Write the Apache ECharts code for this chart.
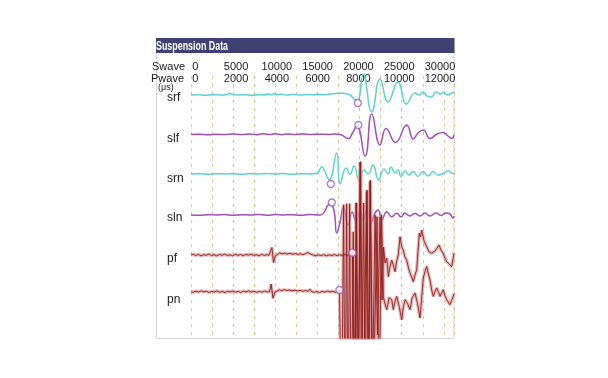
<!DOCTYPE html>
<html>
<head>
<meta charset="utf-8">
<title>Suspension Data</title>
<script src="https://cdn.jsdelivr.net/npm/echarts@6.0.0/dist/echarts.min.js"></script>
<style>
    html, body { margin: 0; padding: 0; background: #fff; }
    #main { width: 608px; height: 378px; }
</style>
</head>
<body>
<div id="main"></div>
<script>
// trace names, top to bottom
var traceNames = ['srf', 'slf', 'srn', 'sln', 'pf', 'pn'];

// tick labels of the two time rows (Pwave time in us is the data axis)
var swaveTicks = [0, 5000, 10000, 15000, 20000, 25000, 30000];
var pwaveTicks = [0, 2000, 4000, 6000, 8000, 10000, 12000];

// waveforms: [time (us, Pwave), amplitude]
var srfData = [[0,0],[350,0.3],[680,-0.2],[1000,0.3],[1390,0],[1670,0.2],[1810,1.5],[1960,0.5],[2240,0],[2570,0.3],[2900,-0.2],[3190,0.3],[3470,0],[3660,1],[3810,0.2],[3950,1.2],[4090,0.3],[4280,0.8],[4520,0],[4850,0.4],[5180,0],[5470,0.5],[5750,0.2],[6030,0.8],[6320,0.3],[6600,1],[6890,1.5],[7170,1.8],[7360,1.2],[7550,0],[7740,-4],[7900,-6],[8170,21],[8580,-17],[8970,16],[9350,-7],[9820,13],[10230,-9],[10630,2],[10820,0],[11010,3],[11200,-1],[11410,-2],[11630,3],[11820,1],[12010,3],[12150,0],[12290,1],[12480,3]];

var slfData = [[0,0],[400,0.3],[800,-0.2],[1200,0.2],[1600,0],[2000,0.4],[2400,0],[2800,0.6],[3100,-0.3],[3400,0.8],[3700,0],[4000,0.7],[4300,-0.2],[4600,0.5],[4900,0],[5300,0.4],[5700,0],[6100,0.3],[6500,0],[6800,0.4],[7075,0],[7470,-4],[7640,0.5],[7870,8.5],[8260,-21.5],[8578,20.5],[8971,-10.5],[9255,6],[9706,-8],[10236,9.5],[10549,-4.5],[10772,1.5],[11023,4.5],[11341,-4],[11673,0.5],[11971,2],[12194,-1.5],[12369,-4],[12480,-0.5]];

var srnData = [[0,0],[400,0.2],[800,-0.2],[1200,0.3],[1600,0],[2000,0.3],[2400,-0.2],[2800,0.4],[3200,0],[3600,0.5],[4000,0],[4400,0.4],[4800,-0.2],[5200,0.3],[5600,0],[5970,0.7],[6210,7.3],[6360,2],[6560,-6],[6910,21],[7075,-10],[7360,6],[7549,0],[7739,8],[7976,-6],[8213,4],[8402,0],[8639,9],[8900,-6],[9161,5],[9350,0],[9492,7],[9682,1],[9824,4],[9966,-2.5],[10156,3],[10345,-1],[10535,2.5],[10772,-2.5],[11009,2.5],[11246,-2],[11483,2.5],[11720,-1],[11957,0.5],[12194,3],[12431,0.5],[12480,1]];

var slnData = [[0,0],[400,-0.2],[800,0.3],[1200,0],[1600,0.4],[2000,-0.2],[2400,0.3],[2800,0],[3200,0.5],[3600,-0.2],[4000,0.4],[4400,0],[4800,0.3],[5200,-0.2],[5600,0.4],[6128,0],[6600,11],[6780,5],[6919,-18],[7075,-7],[7232,8],[7455,-10],[7644,3],[7834,-7],[8023,5],[8165,-5],[8341,5],[8545,-7],[8734,2],[8876,5],[9052,-5],[9289,3.3],[9526,-1.7],[9762,1.7],[9966,-2],[10156,2],[10393,-1],[10630,1.5],[10867,-1],[11104,2],[11341,-1],[11625,2],[11862,-0.5],[12099,2],[12289,1],[12431,-3],[12480,-1]];

var pfData = [[0,0],[120,0.8],[230,-0.5],[350,0.6],[470,-0.8],[600,0.4],[720,-0.3],[850,1],[970,-0.6],[1100,0.3],[1220,-0.9],[1350,0.5],[1480,-0.2],[1600,0.9],[1720,-0.5],[1850,0.2],[1980,-0.8],[2100,0.7],[2230,-0.3],[2350,0.5],[2480,-0.7],[2600,0.6],[2730,-0.2],[2850,0.9],[2980,-0.6],[3100,0.3],[3230,-0.8],[3350,0.6],[3480,-0.4],[3600,0.4],[3700,-0.3],[3770,0],[3840,7.5],[3915,-7.5],[4000,-1],[4080,1],[4200,2],[4320,1.2],[4450,1.8],[4570,1],[4700,1.6],[4830,0.8],[4950,1.4],[5080,0.6],[5200,1.2],[5320,0.4],[5450,1.5],[5545,2.5],[5680,0.8],[5800,0],[5930,-0.8],[6050,0.2],[6180,-0.6],[6300,0.4],[6430,-0.9],[6550,0.1],[6680,-0.5],[6800,0.5],[6930,-0.7],[7050,0.3],[7180,-0.5],[7300,0.5],[7420,-0.3],[7550,0.6],[7660,1.7],[7761,-150],[7857,52],[7943,-150],[8023,93],[8094,-150],[8190,52],[8260,-150],[8355,65],[8440,-150],[8511,75],[8616,-130],[8734,40],[8852,-80],[8971,38],[9066,-45],[9137,8],[9208,-8],[9290,-3],[9364,-21.7],[9440,-12],[9525,-5],[9600,-10],[9682,-16.7],[9760,-6],[9838,0],[9919,18.3],[10000,8],[10075,5],[10150,-2],[10236,-5],[10310,-12],[10393,-18],[10470,-22],[10549,-26.7],[10630,-20],[10710,-15],[10833,21.7],[10890,18],[10947,25],[11060,14],[11184,8.3],[11300,3],[11421,1.7],[11497,0],[11580,4],[11658,5],[11767,10],[11860,5],[11957,2],[12050,-3],[12132,-6.7],[12250,-9],[12369,-11.7],[12478,1.7]];

var pnData = [[0,0],[110,-0.6],[240,0.7],[360,-0.4],[480,0.9],[610,-0.2],[730,0.5],[860,-0.8],[980,0.4],[1110,-0.3],[1230,0.8],[1360,-0.6],[1490,0.3],[1610,-0.9],[1730,0.5],[1860,-0.2],[1990,0.7],[2110,-0.5],[2240,0.4],[2360,-0.8],[2490,0.6],[2610,-0.3],[2740,0.8],[2860,-0.4],[2990,0.5],[3110,-0.7],[3240,0.3],[3360,-0.5],[3490,0.7],[3610,-0.2],[3730,0],[3805,7.7],[3890,-6.6],[3980,-0.5],[4060,1.5],[4180,1.8],[4300,1],[4430,2],[4550,1.2],[4680,1.7],[4800,0.9],[4930,1.5],[5050,0.7],[5180,1.3],[5300,0.5],[5430,1.2],[5560,0.3],[5640,2.5],[5720,0.2],[5850,-0.6],[5970,0.3],[6100,-0.8],[6220,0.4],[6350,-0.5],[6470,0.6],[6600,-0.3],[6720,0.5],[6850,-0.6],[6950,0.4],[7045,1.7],[7147,-150],[7241,87],[7312,-150],[7384,88],[7455,-150],[7526,88],[7600,-150],[7700,60],[7780,-150],[7834,89],[7905,-150],[8047,130],[8165,-150],[8331,100],[8402,-150],[8497,110],[8616,-150],[8829,75],[8924,-120],[9042,77],[9127,-4.7],[9200,-12],[9289,-18],[9400,-6],[9525,-8],[9601,-18],[9680,-10],[9762,-4.7],[9880,-15],[9999,-28],[10080,-15],[10156,-8],[10280,-12],[10393,-18],[10500,-6],[10630,-1.3],[10750,-12],[10867,-26.3],[11023,13.7],[11100,20],[11184,25.3],[11260,18],[11341,12],[11420,2],[11497,-4.7],[11580,0],[11658,3.7],[11740,0],[11815,-4.7],[11900,-1],[11971,2],[12050,-4],[12132,-8],[12210,-10],[12289,-13],[12360,-9],[12445,-4.7],[12480,-2]];

// first-arrival picks per trace: [time, amplitude]
var picks = [[7914,-8],[7943,9.5],[6635,-10],[6682,12.5],[7662,2.3],[7042,1.7]];

// layout: trace baselines and name rows, in y-axis units (1 unit = 1 px)
var baselines = [243, 203.5, 164, 123, 83, 46.3];
var nameRows = [240, 199.5, 159, 120, 79, 38];

var FONT = '"Liberation Sans", Arial, sans-serif';
var CYAN = '#5cd3ce', PURPLE = '#a24fb6', RED = '#8e1a1a', PINK = 'rgba(216,150,150,0.65)';

var shift = function (data, base) {
    return data.map(function (p) { return [p[0], base + p[1]]; });
};

var waveLine = function (name, data, base, color, opts) {
    opts = opts || {};
    return {
        name: name,
        type: 'line',
        data: shift(data, base),
        symbol: 'none',
        smooth: opts.smooth || false,
        clip: opts.clip !== undefined ? opts.clip : true,
        lineStyle: { color: color, width: opts.width || 1.5 },
        silent: true,
        z: opts.z || 2
    };
};

var plain = function (v) { return String(v); };

var chart = echarts.init(document.getElementById('main'));

var labelStyle = { fontFamily: FONT, fontSize: 11, color: '#1a1a1a' };

chart.setOption({
    animation: false,
    backgroundColor: '#fff',
    graphic: [
        { type: 'rect', shape: { x: 156.5, y: 38.5, width: 297.5, height: 300 },
          style: { fill: null, stroke: '#d4d4d4', lineWidth: 1 }, z: -1 },
        { type: 'rect', shape: { x: 156, y: 38, width: 298.5, height: 15 },
          style: { fill: '#3e4171' }, z: -1 },
        { type: 'text', x: 156, y: 46.5, scaleX: 0.74,
          style: { text: 'Suspension Data', font: 'bold 12px ' + FONT, fill: '#fff', verticalAlign: 'middle' } },
        { type: 'text', x: 158, y: 88,
          style: { text: '(\u03bcs)', font: '9px ' + FONT, fill: '#1a1a1a', verticalAlign: 'middle' } }
    ],
    grid: { left: 191, right: 154, top: 76, bottom: 40 },
    xAxis: [
        {
            // Pwave time, carries the data and the dashed grid
            type: 'value', position: 'top', min: 0, max: 12480, interval: 1000,
            axisLine: { show: false }, axisTick: { show: false }, axisLabel: { show: false },
            splitLine: { show: true, lineStyle: { color: '#cfc796', type: [3, 5], width: 1 } }
        },
        {
            type: 'value', position: 'top', offset: -3, min: -210, max: 12685,
            axisLine: { show: false }, axisTick: { show: false }, splitLine: { show: false },
            axisLabel: Object.assign({ customValues: pwaveTicks, margin: 0, verticalAlign: 'middle', formatter: plain }, labelStyle),
            name: 'Pwave', nameLocation: 'start', nameGap: 7,
            nameTextStyle: Object.assign({ align: 'right', verticalAlign: 'middle' }, labelStyle)
        },
        {
            type: 'value', position: 'top', offset: 9, min: -526, max: 31715,
            axisLine: { show: false }, axisTick: { show: false }, splitLine: { show: false },
            axisLabel: Object.assign({ customValues: swaveTicks, margin: 0, verticalAlign: 'middle', formatter: plain }, labelStyle),
            name: 'Swave', nameLocation: 'start', nameGap: 6,
            nameTextStyle: Object.assign({ align: 'right', verticalAlign: 'middle' }, labelStyle)
        }
    ],
    yAxis: {
        type: 'value', min: 0, max: 262,
        axisLine: { show: false }, axisTick: { show: false }, splitLine: { show: false },
        axisLabel: {
            customValues: nameRows, align: 'left', margin: 24,
            fontFamily: FONT, fontSize: 12, color: '#1a1a1a',
            formatter: function (v) {
                var i = nameRows.indexOf(v);
                return i < 0 ? '' : traceNames[i];
            }
        }
    },
    series: [
        waveLine('srf', srfData, baselines[0], CYAN, { smooth: 0.5, clip: false }),
        waveLine('slf', slfData, baselines[1], PURPLE, { smooth: 0.5, clip: false }),
        waveLine('srn', srnData, baselines[2], CYAN, { smooth: 0.5, clip: false }),
        waveLine('sln', slnData, baselines[3], PURPLE, { smooth: 0.5, clip: false }),
        // red traces: pale halo first, then the dark core
        waveLine('pf-halo', pfData, baselines[4], PINK, { width: 3.5, z: 3 }),
        waveLine('pn-halo', pnData, baselines[5], PINK, { width: 3.5, z: 3 }),
        waveLine('pf', pfData, baselines[4], RED, { width: 0.9, z: 4 }),
        waveLine('pn', pnData, baselines[5], RED, { width: 0.9, z: 4 }),
        {
            name: 'picks',
            type: 'scatter',
            data: picks.map(function (p, i) { return [p[0], baselines[i] + p[1]]; }),
            symbol: 'circle', symbolSize: 7,
            itemStyle: { color: '#fff', borderColor: '#9a58c4', borderWidth: 1.3 },
            clip: false, silent: true, z: 5
        }
    ]
});
</script>
</body>
</html>
